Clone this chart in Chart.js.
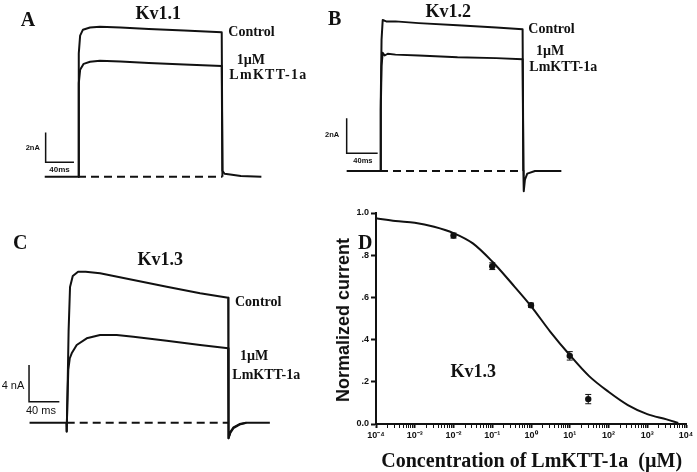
<!DOCTYPE html>
<html>
<head>
<meta charset="utf-8">
<script src="https://cdn.jsdelivr.net/npm/chart.js@4.4.1/dist/chart.umd.min.js"></script>
<style>
  html, body { margin: 0; padding: 0; background: #fff; }
  #figure { position: relative; width: 697px; height: 472px; overflow: hidden; background: #fff; }
  #figure canvas { position: absolute; }
  .lbl { position: absolute; white-space: pre; color: #111; line-height: 1; }
  .serif { font-family: "Liberation Serif", "Times New Roman", serif; font-weight: bold; }
  .sans { font-family: "Liberation Sans", Arial, sans-serif; }
  .sansb { font-family: "Liberation Sans", Arial, sans-serif; font-weight: bold; }
</style>
</head>
<body>
<div id="figure"></div>
<script>
// traces: [time ms, current nA]
const kv11Control = [[-47, 0], [0, 0], [0.8, 5], [1.4, 8.3], [3, 9.5], [7, 9.9], [17, 10.05], [31, 10.1], [60, 10.05], [100, 9.95], [150, 9.85], [203, 9.72], [204, 0.4], [207, 0.2], [215, 0.15], [230, 0.05], [259, 0]];
const kv11Toxin = [[0, 0], [0.8, 4], [1.4, 6.3], [3, 7.2], [8, 7.6], [17, 7.74], [31, 7.8], [60, 7.75], [100, 7.65], [150, 7.55], [203, 7.45], [204, 0]];
const kv11Zero = [[0, 0], [204, 0]];
const kv11Bar = [[-45.7, 2.97], [-45.7, 0.97], [-5.7, 0.97]];

const kv12Control = [[-43, 0], [0, 0], [1, 4], [2, 7.5], [3.5, 8.63], [8, 8.55], [20, 8.55], [50, 8.45], [100, 8.33], [150, 8.2], [184, 8.1], [185, 0], [185.5, -1.15], [187, -0.5], [190, -0.15], [200, 0], [234, 0]];
const kv12Toxin = [[0, 0], [1, 3.5], [2, 6], [3.5, 6.76], [6, 6.6], [10, 6.7], [20, 6.65], [50, 6.6], [100, 6.5], [150, 6.45], [184, 6.38], [185, 0]];
const kv12Zero = [[0, 0], [185, 0]];
const kv12Bar = [[-43, 3.01], [-43, 1.01], [-3, 1.01]];

const kv13Control = [[-49, 0], [-0.5, 0], [0, -0.98], [1, 3], [2.5, 10], [4.4, 14.8], [8, 16], [15, 16.47], [25, 16.45], [44, 16.29], [88, 15.56], [132, 14.83], [176, 14.11], [213, 13.63], [213.5, -1.7], [216, -1.0], [220, -0.5], [228, -0.15], [237, 0], [268, 0]];
const kv13Toxin = [[0, -0.98], [0.8, 2], [2.1, 5.75], [4, 7], [6.6, 7.57], [13.2, 8.47], [26.4, 9.2], [44, 9.56], [66, 9.56], [88, 9.38], [132, 8.94], [176, 8.47], [213, 8.11], [213.5, -1.7], [216, -1.1], [220, -0.6], [228, -0.2], [237, 0]];
const kv13Zero = [[0, 0], [213, 0]];
const kv13Bar = [[-49.7, 6.29], [-49.7, 2.29], [-9.7, 2.29]];

// dose response (panel D)
const doseConc = [0.01, 0.1, 1, 10, 30];
const doseMean = [0.893, 0.748, 0.563, 0.323, 0.118];
const doseSem = [0.012, 0.016, 0.01, 0.02, 0.022];
const fitConc = [1e-4, 3.16e-4, 1e-3, 3.16e-3, 1e-2, 3.16e-2, 0.1, 0.316, 1, 3.16, 10, 31.6, 100, 316, 1000, 3160, 6300];
const fitValue = [0.975, 0.962, 0.954, 0.935, 0.905, 0.856, 0.77, 0.667, 0.559, 0.437, 0.327, 0.227, 0.153, 0.09, 0.047, 0.022, 0.005];
const xTickValues = [1e-4, 1e-3, 1e-2, 1e-1, 1, 10, 100, 1000, 10000];
const xTickLabels = ["10⁻⁴", "10⁻³", "10⁻²", "10⁻¹", "10⁰", "10¹", "10²", "10³", "10⁴"];
const yTickValues = [0, 0.2, 0.4, 0.6, 0.8, 1.0];
const yTickLabels = ["0.0", ".2", ".4", ".6", ".8", "1.0"];

const ink = "#111";
const figure = document.querySelector("#figure");

function pts(pairs) {
  return pairs.map(([x, y]) => ({ x, y }));
}

function addCanvas(id, box) {
  const canvas = document.createElement("canvas");
  canvas.id = id;
  canvas.width = box.width;
  canvas.height = box.height;
  canvas.style.left = box.left + "px";
  canvas.style.top = box.top + "px";
  figure.appendChild(canvas);
  return canvas;
}

// box = canvas rect on the page, x0/y0 = page pixel of (0 ms, 0 nA)
function tracePanel(id, box, control, toxin, zero, bar) {
  const canvas = addCanvas(id, box);
  const line = (data, extra) => Object.assign({
    data: pts(data), borderColor: ink, borderWidth: 2, pointRadius: 0, tension: 0,
    borderJoinStyle: "round", clip: false,
  }, extra);
  new Chart(canvas, {
    type: "line",
    data: {
      datasets: [
        line(zero, { borderDash: [8, 5] }),
        line(control),
        line(toxin),
        line(bar, { borderWidth: 1.5, borderJoinStyle: "miter" }),
      ],
    },
    options: {
      responsive: false, animation: false, events: [],
      layout: { padding: 0 },
      plugins: { legend: { display: false }, tooltip: { enabled: false } },
      scales: {
        x: { type: "linear", display: false, min: (box.left - box.x0) / box.pxMs, max: (box.left + box.width - box.x0) / box.pxMs },
        y: { type: "linear", display: false, min: (box.y0 - box.top - box.height) / box.pxNa, max: (box.y0 - box.top) / box.pxNa },
      },
    },
  });
}

tracePanel("panelA", { left: 0, top: 0, width: 345, height: 200, x0: 78, y0: 176.7, pxMs: 0.708, pxNa: 14.85 }, kv11Control, kv11Toxin, kv11Zero, kv11Bar);
tracePanel("panelB", { left: 345, top: 0, width: 352, height: 200, x0: 380, y0: 171, pxMs: 0.775, pxNa: 17.5 }, kv12Control, kv12Toxin, kv12Zero, kv12Bar);
tracePanel("panelC", { left: 0, top: 210, width: 345, height: 262, x0: 66.7, y0: 422.7, pxMs: 0.758, pxNa: 9.17 }, kv13Control, kv13Toxin, kv13Zero, kv13Bar);

const errorBars = {
  id: "errorBars",
  afterDatasetsDraw(chart) {
    const { ctx } = chart;
    const x = chart.scales.x;
    const y = chart.scales.y;
    ctx.save();
    ctx.strokeStyle = ink;
    ctx.lineWidth = 1;
    doseConc.forEach((c, i) => {
      const px = x.getPixelForValue(c);
      const top = y.getPixelForValue(doseMean[i] + doseSem[i]);
      const bottom = y.getPixelForValue(doseMean[i] - doseSem[i]);
      ctx.beginPath();
      ctx.moveTo(px, top); ctx.lineTo(px, bottom);
      ctx.moveTo(px - 3, top); ctx.lineTo(px + 3, top);
      ctx.moveTo(px - 3, bottom); ctx.lineTo(px + 3, bottom);
      ctx.stroke();
    });
    ctx.restore();
  },
};

const tickFont = { family: "Liberation Sans, Arial, sans-serif", size: 9, weight: "bold" };
const doseCanvas = addCanvas("panelD", { left: 345, top: 200, width: 352, height: 250 });
new Chart(doseCanvas, {
  type: "line",
  data: {
    datasets: [
      {
        data: fitConc.map((c, i) => ({ x: c, y: fitValue[i] })),
        borderColor: ink, borderWidth: 2, pointRadius: 0, cubicInterpolationMode: "monotone", clip: false,
      },
      {
        data: doseConc.map((c, i) => ({ x: c, y: doseMean[i] })),
        showLine: false, pointRadius: 3.2, pointBackgroundColor: ink, pointBorderWidth: 0,
      },
    ],
  },
  options: {
    responsive: false, animation: false, events: [],
    layout: { padding: { top: 13, right: 11, left: 0, bottom: 0 } },
    plugins: { legend: { display: false }, tooltip: { enabled: false } },
    scales: {
      x: {
        type: "logarithmic", min: 1e-4, max: 1e4,
        afterBuildTicks: (scale) => {
          const ticks = [];
          xTickValues.forEach((v, i) => {
            ticks.push({ value: v, major: true });
            if (i < xTickValues.length - 1) {
              for (let m = 2; m <= 9; m += 1) ticks.push({ value: v * m, major: false });
            }
          });
          scale.ticks = ticks;
        },
        afterFit: (scale) => { scale.height = 26; },
        ticks: {
          autoSkip: false, maxRotation: 0, padding: 2, color: ink, font: tickFont,
          callback: (value) => {
            const i = xTickValues.findIndex((v) => Math.abs(v - value) / v < 1e-6);
            return i >= 0 ? xTickLabels[i] : "";
          },
        },
        grid: {
          drawOnChartArea: false, tickLength: 4, tickColor: ink,
          tickWidth: (ctx) => (ctx.tick && ctx.tick.major ? 2 : 1),
        },
        border: { color: ink, width: 2 },
      },
      y: {
        type: "linear", min: 0, max: 1,
        afterBuildTicks: (scale) => { scale.ticks = yTickValues.map((v) => ({ value: v })); },
        afterFit: (scale) => { scale.width = 31; },
        ticks: {
          padding: 2, color: ink, font: tickFont,
          callback: (value) => yTickLabels[yTickValues.findIndex((v) => Math.abs(v - value) < 1e-6)],
        },
        grid: { drawOnChartArea: false, tickLength: 5, tickColor: ink, tickWidth: 2 },
        border: { color: ink, width: 2 },
      },
    },
  },
  plugins: [errorBars],
});

// text labels: x = left edge (or centre when c), b = baseline
const labels = [
  { t: "A", x: 20.7, b: 26, s: 20, f: "serif" },
  { t: "Kv1.1", x: 158.3, b: 19.3, s: 18, f: "serif", c: true },
  { t: "Control", x: 228.3, b: 36.7, s: 14, f: "serif" },
  { t: "1µM", x: 236.7, b: 64.5, s: 14, f: "serif" },
  { t: "LmKTT-1a", x: 229.3, b: 80, s: 14, f: "serif", ls: 1.3 },
  { t: "2nA", x: 25.7, b: 150.7, s: 7.5, f: "sansb" },
  { t: "40ms", x: 49.3, b: 172.3, s: 8, f: "sansb" },
  { t: "B", x: 328, b: 25, s: 20, f: "serif" },
  { t: "Kv1.2", x: 448.3, b: 16.7, s: 18, f: "serif", c: true },
  { t: "Control", x: 528.3, b: 34, s: 14, f: "serif" },
  { t: "1µM", x: 536, b: 56, s: 14, f: "serif" },
  { t: "LmKTT-1a", x: 529.3, b: 71.7, s: 14, f: "serif" },
  { t: "2nA", x: 325, b: 137, s: 7.5, f: "sansb" },
  { t: "40ms", x: 353.3, b: 163.3, s: 7.5, f: "sansb" },
  { t: "C", x: 13, b: 249, s: 20, f: "serif" },
  { t: "Kv1.3", x: 160.3, b: 265, s: 18, f: "serif", c: true },
  { t: "Control", x: 235, b: 306.7, s: 14, f: "serif" },
  { t: "1µM", x: 240, b: 361, s: 14, f: "serif" },
  { t: "LmKTT-1a", x: 232.3, b: 379.3, s: 14, f: "serif" },
  { t: "4 nA", x: 1.7, b: 389, s: 11, f: "sans" },
  { t: "40 ms", x: 26, b: 414.3, s: 11, f: "sans" },
  { t: "D", x: 358, b: 249, s: 20, f: "serif" },
  { t: "Kv1.3", x: 473.3, b: 376.7, s: 18, f: "serif", c: true },
  { t: "Concentration of LmKTT-1a  (µM)", x: 531.7, b: 467, s: 20, f: "serif", c: true },
];

labels.forEach((l) => {
  const el = document.createElement("div");
  el.className = "lbl " + l.f;
  el.textContent = l.t;
  el.style.fontSize = l.s + "px";
  const ascent = l.f === "serif" ? 0.8375 : 0.8465;
  el.style.top = (l.b - ascent * l.s) + "px";
  el.style.left = l.x + "px";
  if (l.ls) el.style.letterSpacing = l.ls + "px";
  if (l.c) el.style.transform = "translateX(-50%)";
  figure.appendChild(el);
});

const yTitle = document.createElement("div");
yTitle.className = "lbl sansb";
yTitle.textContent = "Normalized current";
yTitle.style.fontSize = "18px";
yTitle.style.left = "343px";
yTitle.style.top = "320px";
yTitle.style.transform = "translate(-50%, -50%) rotate(-90deg)";
figure.appendChild(yTitle);
</script>
</body>
</html>
